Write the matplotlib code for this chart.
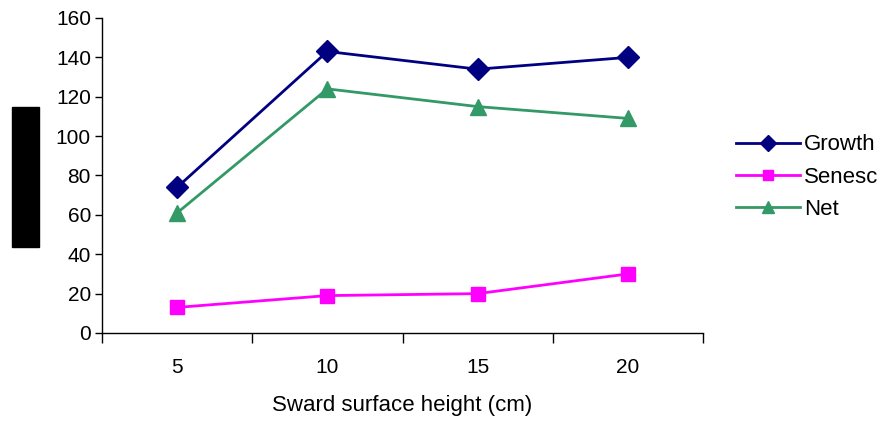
import matplotlib
matplotlib.use("Agg")
import matplotlib.pyplot as plt
from matplotlib.patches import Rectangle

# data
heights = ["5", "10", "15", "20"]
growth = [74, 143, 134, 140]
senesc = [13, 19, 20, 30]
net = [61, 124, 115, 109]

plt.rcParams["font.family"] = ["Liberation Sans", "DejaVu Sans"]

fig = plt.figure(figsize=(8.77, 4.21), dpi=100)
ax = fig.add_axes([102 / 877, 88 / 421, 601 / 877, 315 / 421])

xs = range(1, len(heights) + 1)
ax.plot(xs, growth, "-D", color="#000080", lw=2, ms=11, label="Growth")
ax.plot(xs, senesc, "-s", color="#FF00FF", lw=2, ms=10, label="Senesc")
ax.plot(xs, net, "-^", color="#339966", lw=2, ms=12, label="Net")

ax.set_xlim(0.5, len(heights) + 0.5)
ax.set_ylim(0, 160)
ax.set_yticks(range(0, 161, 20))
ax.tick_params(axis="y", direction="out", length=5, width=1, labelsize=15, pad=3)

# category labels centred, tick marks on the boundaries
ax.set_xticks(list(xs))
ax.set_xticklabels(heights)
ax.tick_params(axis="x", which="major", length=0, labelsize=15, pad=18)
ax.set_xticks([i + 0.5 for i in range(len(heights) + 1)], minor=True)
ax.tick_params(axis="x", which="minor", direction="out", length=7, width=1)

for side in ["top", "right"]:
    ax.spines[side].set_visible(False)
for side in ["left", "bottom"]:
    ax.spines[side].set_linewidth(1)

ax.set_xlabel("Sward surface height (cm)", fontsize=16, labelpad=13)

ax.legend(loc="center left", bbox_to_anchor=(736 / 877, 1 - 177 / 421), bbox_transform=fig.transFigure,
          frameon=False, fontsize=16, handlelength=2.9, labelspacing=0.5, handletextpad=0.15,
          markerscale=0.7, borderpad=0, borderaxespad=0)

# redacted y-axis label block
fig.patches.append(Rectangle((12 / 877, 1 - 247 / 421), 27 / 877, 140 / 421,
                             transform=fig.transFigure, color="black"))

fig.savefig("out.png", dpi=100)
